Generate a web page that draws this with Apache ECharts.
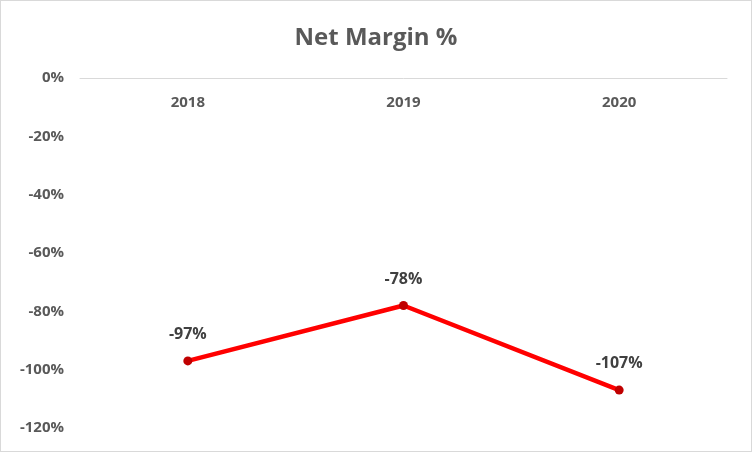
<!DOCTYPE html>
<html><head><meta charset="utf-8">
<script src="https://cdn.jsdelivr.net/npm/echarts@6/dist/echarts.min.js"></script>
<style>html,body{margin:0;padding:0;background:#fff}#c{width:750px;height:450px;border:1px solid #d9d9d9}</style>
</head><body><div id="c"></div>
<script>
const categories = ['2018','2019','2020'];
const netMargin = [-97, -78, -107];
const yTicks = [0,-20,-40,-60,-80,-100,-120];
const FONT = '"Open Sans",sans-serif';
const chart = echarts.init(document.getElementById('c'));
chart.setOption({
  animation:false,
  title:{text:'Net Margin %',left:'center',top:20,textStyle:{fontFamily:FONT,fontSize:24,fontWeight:'bold',color:'#595959'}},
  grid:{left:79,right:24,top:77,bottom:23,containLabel:false,outerBoundsMode:'none'},
  xAxis:{type:'category',position:'top',data:categories,axisLine:{onZero:false,lineStyle:{color:'#d9d9d9',width:1}},axisTick:{show:false},
    axisLabel:{inside:true,margin:17,fontFamily:FONT,fontSize:15,fontWeight:'bold',color:'#595959'}},
  yAxis:{type:'value',min:yTicks[yTicks.length-1],max:yTicks[0],interval:20,splitLine:{show:false},axisLine:{show:false},axisTick:{show:false},
    axisLabel:{margin:16,fontFamily:FONT,fontSize:15,fontWeight:'bold',color:'#595959',formatter:v=>v+'%'}},
  series:[{type:'line',data:netMargin,symbol:'circle',symbolSize:9,
    lineStyle:{color:'#ff0000',width:4.5},itemStyle:{color:'#c00000'},
    label:{show:true,position:'top',distance:14,formatter:p=>p.value+'%',fontFamily:FONT,fontSize:16,fontWeight:'bold',color:'#404040'}}]
});
</script></body></html>
